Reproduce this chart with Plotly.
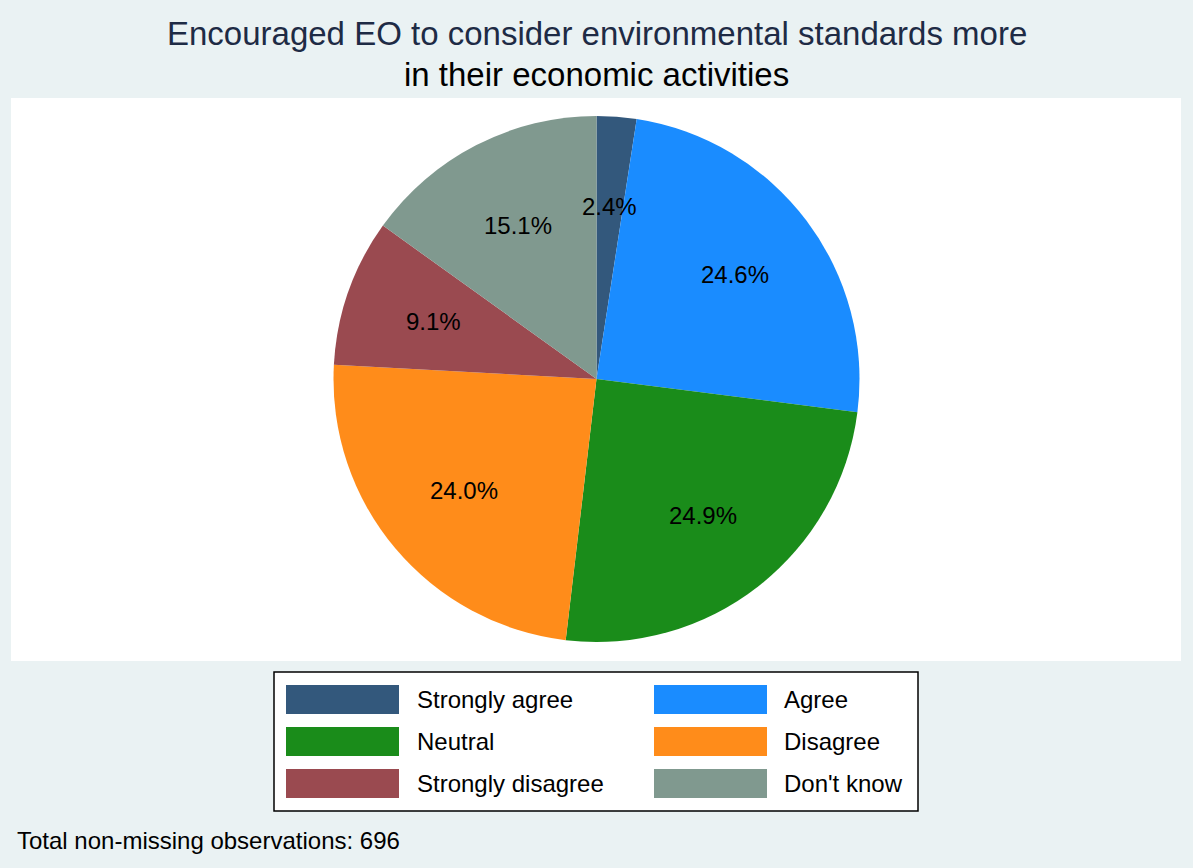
import math
import plotly.graph_objects as go

# Survey answers (n = 696)
labels = ["Strongly agree", "Agree", "Neutral", "Disagree",
          "Strongly disagree", "Don't know"]
counts = [17, 171, 173, 167, 63, 105]
colors = ["#33587c", "#1a8cff", "#1a8c1a", "#ff8c1a", "#9a4a50", "#80998f"]

W, H = 1193, 868


def px(x):
    return x / W


def py(y):
    return 1 - y / H


# pie placement in pixels
cx, cy, R = 596.5, 379, 263

fig = go.Figure()
fig.add_trace(go.Pie(
    labels=labels, values=counts, sort=False, direction="clockwise",
    marker=dict(colors=colors, line=dict(width=0)),
    textinfo="none", showlegend=False,
    domain=dict(x=[0, 1], y=[py(cy + R), py(cy - R)]),
))

shapes = []
annotations = []

# white plot region behind the pie
shapes.append(dict(type="rect", xref="paper", yref="paper", layer="below",
                   x0=px(11), x1=px(1181), y0=py(661), y1=py(98),
                   fillcolor="white", line=dict(width=0)))

# percentage labels, placed at 0.66 of the radius on each slice mid-angle
total = sum(counts)
cum = 0
for c in counts:
    mid = (cum + c / 2) / total * 2 * math.pi
    cum += c
    lx = cx + 0.658 * R * math.sin(mid)
    ly = cy - 0.658 * R * math.cos(mid)
    annotations.append(dict(
        x=px(lx), y=py(ly), xref="paper", yref="paper", showarrow=False,
        text=f"{100 * c / total:.1f}%", font=dict(size=24, color="black"),
        xanchor="center", yanchor="middle"))

# legend box
shapes.append(dict(type="rect", xref="paper", yref="paper",
                   x0=px(274), x1=px(918), y0=py(811), y1=py(672),
                   fillcolor="white", line=dict(color="black", width=1.5)))
for i, (lab, col) in enumerate(zip(labels, colors)):
    row, colno = divmod(i, 2)
    sx = 286 if colno == 0 else 654
    tx = 415 if colno == 0 else 782
    yc = 699.5 + 42 * row
    shapes.append(dict(type="rect", xref="paper", yref="paper",
                       x0=px(sx), x1=px(sx + 113),
                       y0=py(yc + 14.5), y1=py(yc - 14.5),
                       fillcolor=col, line=dict(width=0)))
    annotations.append(dict(x=px(tx), y=py(yc), xref="paper", yref="paper",
                            showarrow=False, text=lab, xanchor="left",
                            yanchor="middle",
                            font=dict(size=24, color="black")))

# title lines
annotations.append(dict(x=0.5, y=py(33), xref="paper", yref="paper",
                        showarrow=False, yanchor="middle",
                        text="Encouraged EO to consider environmental standards more",
                        font=dict(size=33, color="#1e2b45")))
annotations.append(dict(x=0.5, y=py(75), xref="paper", yref="paper",
                        showarrow=False, yanchor="middle",
                        text="in their economic activities",
                        font=dict(size=33, color="black")))

# note
annotations.append(dict(x=px(15), y=py(840), xref="paper", yref="paper",
                        showarrow=False, xanchor="left", yanchor="middle",
                        text="Total non-missing observations: 696",
                        font=dict(size=24, color="black")))

fig.update_layout(
    width=W, height=H,
    margin=dict(l=0, r=0, t=0, b=0),
    paper_bgcolor="#eaf2f3",
    font=dict(family="Liberation Sans, Arial, sans-serif"),
    shapes=shapes, annotations=annotations,
)

# drop the default page margin so the figure sits at the window origin
fig.write_html("out.html", config={"displayModeBar": False},
               post_script="document.body.style.margin='0';")
